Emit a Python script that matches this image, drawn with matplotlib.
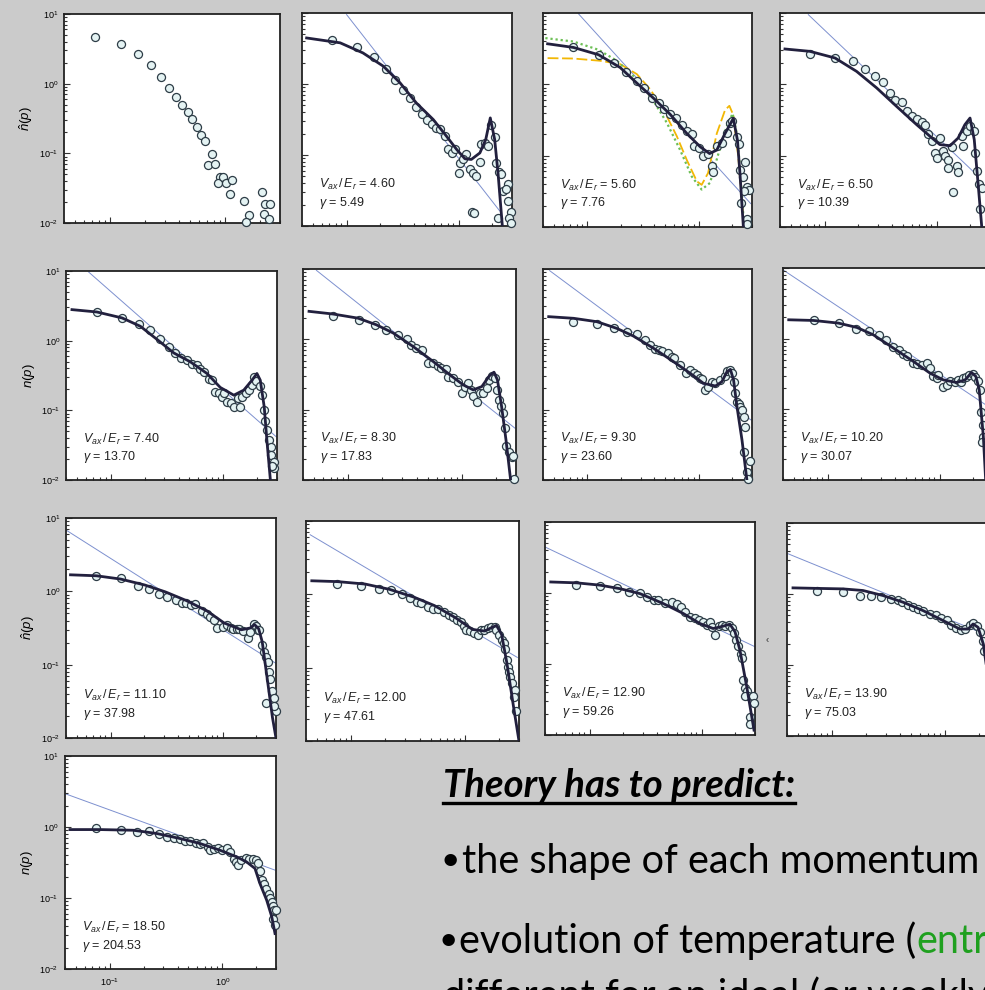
import matplotlib
matplotlib.use('Agg')
import matplotlib.pyplot as plt
from matplotlib.lines import Line2D
from matplotlib.ticker import LogLocator, NullFormatter

plt.rcParams['font.family'] = ['Liberation Sans', 'DejaVu Sans']
plt.rcParams['mathtext.fontset'] = 'custom'
plt.rcParams['mathtext.rm'] = 'Liberation Sans'
plt.rcParams['mathtext.it'] = 'Liberation Sans:italic'
plt.rcParams['mathtext.bf'] = 'Liberation Sans:bold'

################################################################################
# Datos (p, n(p))

# panel 1 : solo puntos
pts1_x = [0.075, 0.126, 0.175, 0.226, 0.276, 0.324, 0.373, 0.423, 0.474, 0.52, 0.571, 0.623, 0.67, 0.77, 0.716,
          0.824, 0.904, 0.875, 0.967, 1.02, 1.16, 1.11, 1.46, 1.60, 1.51, 2.11, 2.22, 2.45, 2.19, 2.39]
pts1_y = [4.7, 3.7, 2.66, 1.83, 1.26, 0.88, 0.65, 0.50, 0.39, 0.316, 0.24, 0.182, 0.149, 0.097, 0.069,
          0.071, 0.046, 0.0376, 0.045, 0.0376, 0.042, 0.026, 0.0207, 0.0129, 0.0102, 0.0276, 0.0185, 0.0185, 0.0136, 0.0115]

# panel 2
pts2_x = [0.074, 0.124, 0.174, 0.225, 0.271, 0.317, 0.368, 0.417, 0.468, 0.519, 0.575, 0.629, 0.68, 0.755, 0.81,
          0.865, 0.927, 1.03, 1.01, 1.16, 1.10, 1.26, 1.35, 1.44, 1.55, 1.60, 1.71, 1.84, 1.96, 2.10,
          2.18, 2.30, 2.41, 2.50, 2.79, 2.63, 2.75, 2.95, 2.82, 2.25, 2.92, 1.33, 1.36]
pts2_y = [4.22, 3.33, 2.4, 1.65, 1.13, 0.817, 0.63, 0.477, 0.372, 0.316, 0.275, 0.241, 0.229, 0.188, 0.12,
          0.107, 0.12, 0.0776, 0.056, 0.102, 0.087, 0.063, 0.056, 0.051, 0.079, 0.144, 0.148, 0.136, 0.263, 0.177,
          0.0776, 0.057, 0.054, 0.0316, 0.039, 0.033, 0.0224, 0.016, 0.013, 0.013, 0.011, 0.0155, 0.0150]
fit2_x = [0.044, 0.0877, 0.14, 0.213, 0.30, 0.42, 0.594, 0.78, 0.96, 1.14, 1.30, 1.55, 1.75, 1.92, 2.10, 2.25, 2.46]
fit2_y = [4.45, 3.8, 2.74, 1.78, 1.04, 0.54, 0.316, 0.184, 0.12, 0.0885, 0.0866, 0.107, 0.166, 0.333, 0.166, 0.056, 0.01]
ley2_x = [0.1, 2.33]
ley2_y = [9.5, 0.0163]

# panel 3 (con dos curvas teoricas extra)
pts3_x = [0.074, 0.126, 0.174, 0.224, 0.278, 0.323, 0.379, 0.435, 0.488, 0.553, 0.625, 0.703, 0.78, 0.865, 0.914,
          1.01, 1.10, 1.21, 1.32, 1.33, 1.45, 1.60, 1.78, 1.90, 2.0, 2.19, 2.31, 2.34, 2.50, 2.57,
          2.73, 2.83, 2.55, 2.40, 2.73, 2.70]
pts3_y = [3.3, 2.6, 2.02, 1.5, 1.12, 0.9, 0.652, 0.555, 0.447, 0.38, 0.341, 0.266, 0.221, 0.2, 0.136,
          0.129, 0.1, 0.105, 0.071, 0.059, 0.136, 0.151, 0.205, 0.289, 0.31, 0.18, 0.144, 0.063, 0.05, 0.082,
          0.036, 0.033, 0.032, 0.0215, 0.013, 0.011]
fit3_x = [0.044, 0.075, 0.126, 0.197, 0.278, 0.392, 0.553, 0.78, 1.03, 1.25, 1.45, 1.72, 2.04, 2.22, 2.34, 2.51]
fit3_y = [3.7, 3.29, 2.6, 1.72, 1.04, 0.64, 0.38, 0.205, 0.133, 0.107, 0.12, 0.205, 0.333, 0.166, 0.056, 0.01]
verde3_x = [0.042, 0.075, 0.126, 0.184, 0.278, 0.392, 0.516, 0.68, 0.865, 1.06, 1.26, 1.5, 1.78, 2.01, 2.19, 2.34, 2.55]
verde3_y = [4.45, 3.98, 3.05, 2.14, 1.18, 0.585, 0.29, 0.12, 0.051, 0.0335, 0.0415, 0.107, 0.257, 0.39, 0.205, 0.07, 0.01]
amar3_x = [0.044, 0.075, 0.13, 0.197, 0.278, 0.366, 0.48, 0.634, 0.78, 0.96, 1.06, 1.21, 1.45, 1.72, 1.88, 2.04,
           2.26, 2.43, 2.55]
amar3_y = [2.33, 2.3, 2.14, 1.92, 1.39, 0.853, 0.447, 0.188, 0.087, 0.0437, 0.039, 0.057, 0.205, 0.437, 0.5, 0.37,
           0.096, 0.0237, 0.01]
ley3_x = [0.083, 2.92]
ley3_y = [9.8, 0.0213]

# panel 4
pts4_x = [0.074, 0.124, 0.178, 0.23, 0.282, 0.334, 0.384, 0.425, 0.487, 0.54, 0.60, 0.664, 0.736, 0.789, 0.844,
          0.904, 0.968, 1.0, 1.07, 1.15, 1.19, 1.27, 1.36, 1.27, 1.51, 1.56, 1.41, 1.73, 1.69, 1.86,
          2.0, 2.17, 2.2, 2.31, 2.41, 2.53, 2.44]
pts4_y = [2.66, 2.31, 2.15, 1.64, 1.32, 1.07, 0.758, 0.61, 0.559, 0.426, 0.363, 0.324, 0.3, 0.269, 0.2,
          0.162, 0.11, 0.093, 0.177, 0.117, 0.1, 0.087, 0.132, 0.068, 0.071, 0.059, 0.031, 0.138, 0.19, 0.224,
          0.26, 0.224, 0.11, 0.06, 0.04, 0.035, 0.0178]
fit4_x = [0.0443, 0.074, 0.124, 0.193, 0.292, 0.44, 0.664, 0.873, 1.07, 1.32, 1.56, 1.79, 1.99, 2.17, 2.36, 2.53]
fit4_y = [3.13, 2.9, 2.34, 1.52, 0.89, 0.49, 0.272, 0.187, 0.143, 0.138, 0.177, 0.272, 0.337, 0.168, 0.037, 0.0102]
ley4_x = [0.0716, 2.36]
ley4_y = [9.48, 0.0513]

# panel 5
pts5_x = [0.0753, 0.126, 0.177, 0.225, 0.275, 0.327, 0.374, 0.423, 0.475, 0.527, 0.583, 0.625, 0.678, 0.741, 0.79,
          0.85, 0.91, 0.973, 1.02, 1.08, 1.17, 1.24, 1.34, 1.40, 1.47, 1.60, 1.68, 1.80, 1.88, 1.97,
          2.10, 2.21, 2.28, 2.36, 2.44, 2.53, 2.65, 2.65, 2.80, 2.83, 2.70]
pts5_y = [2.6, 2.12, 1.72, 1.41, 1.04, 0.815, 0.668, 0.566, 0.525, 0.47, 0.445, 0.398, 0.357, 0.286, 0.27,
          0.185, 0.175, 0.156, 0.175, 0.133, 0.126, 0.112, 0.148, 0.112, 0.156, 0.175, 0.195, 0.23, 0.303, 0.26,
          0.224, 0.165, 0.1, 0.071, 0.052, 0.037, 0.030, 0.023, 0.0183, 0.0148, 0.016]
fit5_x = [0.0452, 0.0753, 0.126, 0.183, 0.258, 0.362, 0.509, 0.716, 0.94, 1.24, 1.52, 1.8, 1.99, 2.13, 2.31, 2.44, 2.62]
fit5_y = [2.79, 2.58, 2.12, 1.61, 1.04, 0.668, 0.497, 0.338, 0.213, 0.165, 0.195, 0.271, 0.338, 0.271, 0.112, 0.037, 0.01]
ley5_x = [0.0635, 2.95]
ley5_y = [9.68, 0.0418]

# panel 6
pts6_x = [0.074, 0.124, 0.171, 0.217, 0.275, 0.326, 0.36, 0.399, 0.442, 0.506, 0.56, 0.62, 0.66, 0.723, 0.759,
          0.84, 0.93, 0.995, 1.06, 1.14, 1.2, 1.26, 1.35, 1.44, 1.55, 1.66, 1.75, 1.84, 1.95, 2.06,
          2.14, 2.2, 2.29, 2.4, 2.45, 2.62, 2.75, 2.8, 2.88]
pts6_y = [2.12, 1.9, 1.61, 1.37, 1.16, 1.0, 0.836, 0.75, 0.71, 0.468, 0.458, 0.42, 0.39, 0.377, 0.296,
          0.28, 0.25, 0.171, 0.213, 0.238, 0.191, 0.154, 0.13, 0.171, 0.171, 0.2, 0.265, 0.3, 0.286, 0.19,
          0.138, 0.111, 0.089, 0.054, 0.03, 0.025, 0.021, 0.022, 0.0105]
fit6_x = [0.0452, 0.0736, 0.122, 0.177, 0.249, 0.373, 0.56, 0.785, 1.03, 1.26, 1.5, 1.75, 1.92, 2.06, 2.24, 2.45, 2.69]
fit6_y = [2.5, 2.29, 2.0, 1.61, 1.23, 0.79, 0.484, 0.313, 0.225, 0.191, 0.213, 0.303, 0.341, 0.265, 0.111, 0.037, 0.01]
ley6_x = [0.0525, 2.94]
ley6_y = [9.57, 0.0545]

# panel 7
pts7_x = [0.0745, 0.123, 0.175, 0.227, 0.279, 0.331, 0.367, 0.407, 0.44, 0.467, 0.525, 0.574, 0.6, 0.682, 0.773,
          0.839, 0.898, 0.96, 1.03, 1.07, 1.14, 1.22, 1.31, 1.41, 1.56, 1.7, 1.79, 1.9, 2.0, 2.05,
          2.12, 2.2, 2.27, 2.35, 2.44, 2.52, 2.61, 2.52, 2.86, 2.7, 2.78]
pts7_y = [1.78, 1.65, 1.43, 1.29, 1.18, 0.977, 0.83, 0.72, 0.7, 0.69, 0.63, 0.566, 0.54, 0.431, 0.328,
          0.37, 0.33, 0.31, 0.28, 0.27, 0.19, 0.21, 0.25, 0.24, 0.263, 0.3, 0.35, 0.37, 0.33, 0.25,
          0.17, 0.13, 0.12, 0.11, 0.099, 0.079, 0.057, 0.025, 0.0188, 0.013, 0.0105]
fit7_x = [0.045, 0.0753, 0.122, 0.184, 0.26, 0.393, 0.594, 0.839, 1.1, 1.41, 1.61, 1.79, 1.92, 2.05, 2.2, 2.44, 2.7]
fit7_y = [2.1, 1.99, 1.78, 1.43, 1.11, 0.745, 0.481, 0.328, 0.237, 0.217, 0.25, 0.347, 0.374, 0.264, 0.11, 0.037, 0.01]
ley7_x = [0.0459, 2.94]
ley7_y = [9.47, 0.0713]

# panel 8
pts8_x = [0.075, 0.127, 0.18, 0.232, 0.285, 0.334, 0.383, 0.43, 0.476, 0.51, 0.577, 0.626, 0.69, 0.769, 0.822,
          0.881, 0.94, 0.97, 1.08, 1.16, 1.24, 1.37, 1.46, 1.56, 1.62, 1.73, 1.84, 1.97, 2.07, 2.21,
          2.29, 2.33, 2.46, 2.43, 2.4]
pts8_y = [1.81, 1.66, 1.38, 1.27, 1.13, 0.944, 0.751, 0.697, 0.611, 0.56, 0.451, 0.44, 0.43, 0.45, 0.383,
          0.292, 0.28, 0.31, 0.21, 0.22, 0.25, 0.24, 0.26, 0.24, 0.275, 0.29, 0.31, 0.32, 0.29, 0.25,
          0.189, 0.093, 0.06, 0.041, 0.034]
fit8_x = [0.045, 0.075, 0.125, 0.183, 0.257, 0.388, 0.585, 0.822, 1.08, 1.42, 1.69, 1.93, 2.11, 2.26, 2.46, 2.58]
fit8_y = [1.85, 1.81, 1.66, 1.44, 1.13, 0.734, 0.475, 0.325, 0.261, 0.24, 0.261, 0.332, 0.292, 0.189, 0.041, 0.01]
ley8_x = [0.0406, 3.0]
ley8_y = [9.27, 0.099]

# panel 9
pts9_x = [0.0747, 0.123, 0.175, 0.22, 0.268, 0.321, 0.383, 0.43, 0.473, 0.526, 0.57, 0.65, 0.724, 0.78, 0.84,
          0.9, 1.0, 1.1, 1.18, 1.24, 1.35, 1.4, 1.53, 1.69, 1.76, 1.9, 1.99, 2.07, 2.12, 2.26,
          2.34, 2.42, 2.53, 2.59, 2.66, 2.79, 2.86, 2.45, 2.98, 2.86]
pts9_y = [1.6, 1.5, 1.18, 1.06, 0.93, 0.835, 0.766, 0.7, 0.687, 0.652, 0.67, 0.54, 0.486, 0.45, 0.41,
          0.316, 0.33, 0.35, 0.32, 0.31, 0.305, 0.31, 0.29, 0.229, 0.28, 0.36, 0.34, 0.3, 0.3, 0.184,
          0.148, 0.126, 0.11, 0.079, 0.063, 0.044, 0.035, 0.03, 0.023, 0.027]
fit9_x = [0.0439, 0.0747, 0.123, 0.202, 0.309, 0.473, 0.724, 1.03, 1.47, 1.76, 1.93, 2.1, 2.26, 2.51, 2.79, 3.0]
fit9_y = [1.68, 1.63, 1.47, 1.22, 0.982, 0.75, 0.542, 0.371, 0.299, 0.316, 0.352, 0.309, 0.205, 0.063, 0.019, 0.01]
ley9_x = [0.04, 3.0]
ley9_y = [6.85, 0.104]

# panel 10
pts10_x = [0.075, 0.123, 0.176, 0.225, 0.278, 0.331, 0.376, 0.41, 0.47, 0.52, 0.58, 0.65, 0.72, 0.794, 0.86,
           0.92, 0.99, 1.03, 1.1, 1.2, 1.3, 1.4, 1.49, 1.6, 1.71, 1.84, 1.9, 2.0, 2.11, 2.2,
           2.28, 2.35, 2.4, 2.45, 2.5, 2.6, 2.78, 2.7, 2.85]
pts10_y = [1.38, 1.28, 1.17, 1.14, 1.02, 0.9, 0.782, 0.76, 0.665, 0.64, 0.63, 0.58, 0.52, 0.49, 0.44,
           0.42, 0.37, 0.33, 0.315, 0.3, 0.28, 0.33, 0.33, 0.35, 0.36, 0.36, 0.33, 0.28, 0.24, 0.22,
           0.18, 0.126, 0.102, 0.087, 0.074, 0.062, 0.05, 0.04, 0.026]
fit10_x = [0.045, 0.0762, 0.133, 0.217, 0.355, 0.54, 0.822, 1.17, 1.49, 1.71, 1.9, 2.11, 2.35, 2.67, 3.0]
fit10_y = [1.53, 1.49, 1.38, 1.17, 0.918, 0.703, 0.483, 0.332, 0.316, 0.35, 0.377, 0.283, 0.114, 0.031, 0.01]
ley10_x = [0.0435, 2.9]
ley10_y = [6.5, 0.138]

# panel 11
pts11_x = [0.0757, 0.125, 0.177, 0.226, 0.28, 0.328, 0.376, 0.41, 0.471, 0.54, 0.6, 0.65, 0.711, 0.79, 0.87,
           0.94, 1.04, 1.11, 1.18, 1.25, 1.32, 1.42, 1.52, 1.63, 1.75, 1.86, 1.95, 2.03, 2.13, 2.23,
           2.31, 2.36, 2.44, 2.53, 2.62, 2.44, 2.87, 2.94, 2.7, 2.72]
pts11_y = [1.29, 1.26, 1.19, 1.04, 1.0, 0.88, 0.79, 0.8, 0.72, 0.74, 0.69, 0.64, 0.542, 0.46, 0.44,
           0.41, 0.39, 0.36, 0.39, 0.33, 0.255, 0.34, 0.35, 0.34, 0.36, 0.32, 0.27, 0.22, 0.18, 0.14,
           0.12, 0.06, 0.046, 0.041, 0.035, 0.035, 0.035, 0.028, 0.018, 0.0145]
fit11_x = [0.045, 0.0767, 0.124, 0.187, 0.282, 0.455, 0.687, 0.968, 1.27, 1.56, 1.79, 1.99, 2.2, 2.53, 2.94]
fit11_y = [1.43, 1.39, 1.29, 1.15, 0.98, 0.71, 0.514, 0.371, 0.316, 0.341, 0.364, 0.284, 0.157, 0.048, 0.0117]
ley11_x = [0.04, 3.0]
ley11_y = [4.45, 0.175]

# panel 12
pts12_x = [0.074, 0.125, 0.176, 0.223, 0.274, 0.33, 0.38, 0.42, 0.47, 0.52, 0.58, 0.64, 0.73, 0.84, 0.93,
           1.03, 1.14, 1.26, 1.39, 1.5, 1.65, 1.77, 1.9, 2.02, 2.15, 2.2]
pts12_y = [1.09, 1.06, 0.951, 0.93, 0.9, 0.86, 0.81, 0.76, 0.71, 0.66, 0.62, 0.58, 0.52, 0.5, 0.46,
           0.43, 0.37, 0.33, 0.31, 0.32, 0.37, 0.39, 0.35, 0.29, 0.22, 0.16]
fit12_x = [0.0452, 0.0728, 0.125, 0.188, 0.283, 0.426, 0.64, 0.962, 1.35, 1.6, 1.77, 1.96, 2.18, 2.41, 2.75]
fit12_y = [1.22, 1.2, 1.18, 1.12, 0.951, 0.765, 0.583, 0.422, 0.321, 0.321, 0.378, 0.339, 0.197, 0.063, 0.01]
ley12_x = [0.0408, 3.0]
ley12_y = [3.69, 0.226]

# panel 13
pts13_x = [0.075, 0.125, 0.173, 0.225, 0.275, 0.32, 0.375, 0.42, 0.47, 0.52, 0.58, 0.63, 0.68, 0.74, 0.78,
           0.85, 0.92, 1.0, 1.1, 1.17, 1.26, 1.32, 1.38, 1.48, 1.62, 1.73, 1.88, 2.0, 2.07, 2.18,
           2.24, 2.35, 2.47, 2.61, 2.68, 2.75, 2.8, 2.9, 3.0, 2.85, 2.95]
pts13_y = [0.98, 0.92, 0.853, 0.87, 0.8, 0.726, 0.71, 0.67, 0.64, 0.63, 0.59, 0.57, 0.59, 0.52, 0.47,
           0.49, 0.5, 0.47, 0.5, 0.44, 0.36, 0.32, 0.29, 0.34, 0.37, 0.36, 0.35, 0.34, 0.31, 0.24,
           0.18, 0.16, 0.135, 0.114, 0.1, 0.087, 0.077, 0.068, 0.068, 0.05, 0.041]
fit13_x = [0.0443, 0.0818, 0.162, 0.261, 0.421, 0.634, 0.953, 1.34, 1.64, 1.95, 2.16, 2.48, 2.75, 2.94]
fit13_y = [0.92, 0.92, 0.9, 0.81, 0.688, 0.585, 0.471, 0.38, 0.323, 0.261, 0.16, 0.093, 0.0545, 0.0316]
ley13_x = [0.04, 2.94]
ley13_y = [2.95, 0.247]

# Etiquetas de cada panel
cocientes = ['4.60', '5.60', '6.50', '7.40', '8.30', '9.30', '10.20', '11.10', '12.00', '12.90', '13.90', '18.50']
gammas = ['5.49', '7.76', '10.39', '13.70', '17.83', '23.60', '30.07', '37.98', '47.61', '59.26', '75.03', '204.53']
etiquetas_y = [r'$\hat{n}(p)$', r'$n(p)$', r'$\hat{n}(p)$', r'$n(p)$']

################################################################################
# Figura

W, H = 985, 990
fondo = '#cbcbcb'
fig = plt.figure(figsize=(W / 100, H / 100), dpi=100, facecolor=fondo)

# cajas en pixeles (izq, arriba, der, abajo)
cajas = [(64, 14, 280, 223), (302, 13, 512, 226), (543, 13, 752, 227), (780, 13, 990, 227),
         (66, 271, 277, 480), (303, 269, 516, 480), (543, 269, 752, 480), (783, 268, 993, 480),
         (66, 518, 276, 738), (306, 521, 519, 741), (545, 522, 755, 735), (787, 523, 999, 736),
         (65, 756, 276, 969)]

puntos = [(pts1_x, pts1_y), (pts2_x, pts2_y), (pts3_x, pts3_y), (pts4_x, pts4_y), (pts5_x, pts5_y),
          (pts6_x, pts6_y), (pts7_x, pts7_y), (pts8_x, pts8_y), (pts9_x, pts9_y), (pts10_x, pts10_y),
          (pts11_x, pts11_y), (pts12_x, pts12_y), (pts13_x, pts13_y)]
ajustes = [None, (fit2_x, fit2_y), (fit3_x, fit3_y), (fit4_x, fit4_y), (fit5_x, fit5_y), (fit6_x, fit6_y),
           (fit7_x, fit7_y), (fit8_x, fit8_y), (fit9_x, fit9_y), (fit10_x, fit10_y), (fit11_x, fit11_y),
           (fit12_x, fit12_y), (fit13_x, fit13_y)]
leyes = [None, (ley2_x, ley2_y), (ley3_x, ley3_y), (ley4_x, ley4_y), (ley5_x, ley5_y), (ley6_x, ley6_y),
         (ley7_x, ley7_y), (ley8_x, ley8_y), (ley9_x, ley9_y), (ley10_x, ley10_y), (ley11_x, ley11_y),
         (ley12_x, ley12_y), (ley13_x, ley13_y)]


def nuevo_panel(caja):
    L, T, R, B = caja
    ax = fig.add_axes([L / W, 1 - B / H, (R - L) / W, (B - T) / H])
    ax.set_facecolor('white')
    ax.set_xscale('log')
    ax.set_yscale('log')
    ax.set_xlim(0.04, 3.0)
    ax.set_ylim(0.01, 10)
    for eje in (ax.xaxis, ax.yaxis):
        eje.set_major_locator(LogLocator(base=10))
        eje.set_minor_locator(LogLocator(base=10, subs=range(2, 10)))
        eje.set_minor_formatter(NullFormatter())
    ax.tick_params(which='both', direction='in', top=False, right=False,
                   labelbottom=False, labelleft=False, color='#333333', width=0.8)
    ax.tick_params(which='major', length=4.5)
    ax.tick_params(which='minor', length=2.5)
    for s in ax.spines.values():
        s.set_linewidth(1.3)
        s.set_color('#222222')
    return ax


for i, caja in enumerate(cajas):
    ax = nuevo_panel(caja)
    if leyes[i] is not None:
        ax.plot(leyes[i][0], leyes[i][1], color='#7d90cf', lw=0.7, zorder=1)
    if i == 2:
        ax.plot(amar3_x, amar3_y, color='#f2b705', lw=1.3, ls=(0, (6, 2)), zorder=2)
        ax.plot(verde3_x, verde3_y, color='#6cbf55', lw=1.6, ls=(0, (1, 1.3)), zorder=2)
    ax.plot(puntos[i][0], puntos[i][1], 'o', ms=5.8, mfc='#e4f3f3', mec='#2d3c46', mew=0.9,
            zorder=3, clip_on=False)
    if ajustes[i] is not None:
        ax.plot(ajustes[i][0], ajustes[i][1], color='#22203e', lw=2.0, zorder=4)
        k = i - 1
        ax.text(0.08, 0.195, r'$V_{ax}\,/\,E_r$' + ' = ' + cocientes[k], transform=ax.transAxes,
                fontsize=9, va='center', ha='left', color='#222222')
        ax.text(0.08, 0.11, r'$\gamma$' + ' = ' + gammas[k], transform=ax.transAxes,
                fontsize=9, va='center', ha='left', color='#222222')
    if i in (0, 4, 8, 12):
        ax.tick_params(labelleft=True, labelsize=6.5, pad=4)
        ax.set_ylabel(etiquetas_y[i // 4], fontsize=9.5, labelpad=3)
    if i == 12:
        ax.tick_params(labelbottom=True, labelsize=6.5, pad=5)

fig.text(766 / W, 1 - 640 / H, '\u2039', fontsize=7, color='#333333', va='center')

################################################################################
# Texto de la diapositiva (cortado en el borde como en la original)
fuente = ['Lato', 'DejaVu Sans']
titulo = fig.text(443 / W, 1 - 797 / H, 'Theory has to predict:', fontsize=27.5, fontweight='bold',
                  fontstyle='italic', family=fuente, va='baseline', color='black')
fig.text(440 / W, 1 - 870 / H, '\u2022', fontsize=24, family=fuente, va='baseline', color='black')
fig.text(462 / W, 1 - 873 / H, 'the shape of each momentum', fontsize=28.5,
         family=fuente, va='baseline', color='black')
fig.text(438 / W, 1 - 950 / H, '\u2022', fontsize=24, family=fuente, va='baseline', color='black')
t2 = fig.text(459 / W, 1 - 953 / H, 'evolution of temperature (', fontsize=28.5,
              family=fuente, va='baseline', color='black')
fig.text(443 / W, 1 - 976 / H, 'different for an ideal (or weakly', fontsize=28.5,
         family=fuente, va='top', color='black')

fig.canvas.draw()
bb = titulo.get_window_extent()
fig.add_artist(Line2D([bb.x0 / W, bb.x1 / W], [1 - 803 / H, 1 - 803 / H], color='black', lw=2.4))
bb2 = t2.get_window_extent()
fig.text(bb2.x1 / W, 1 - 953 / H, 'entr', fontsize=28.5, family=fuente, va='baseline', color='#1fa01f')

fig.savefig('out.png', dpi=100, facecolor=fondo)
